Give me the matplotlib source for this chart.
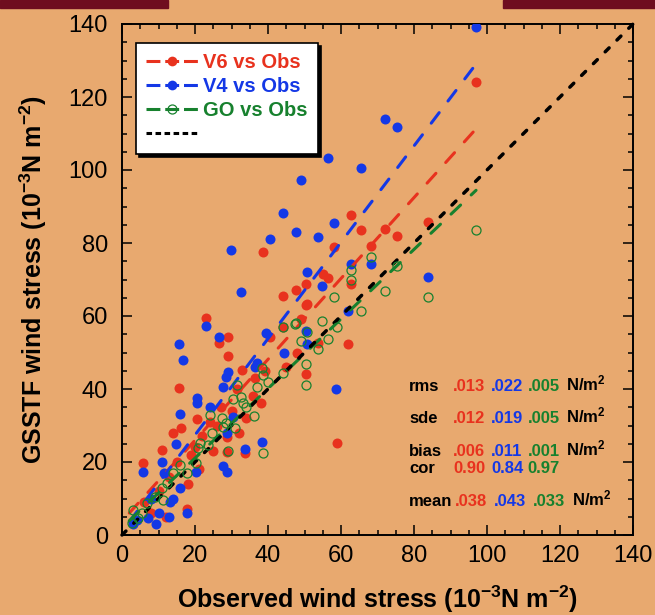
import matplotlib.pyplot as plt
from matplotlib.lines import Line2D

plt.rcParams['font.family'] = 'Liberation Sans'
plt.rcParams['mathtext.fontset'] = 'custom'
plt.rcParams['mathtext.rm'] = 'Liberation Sans:bold'
plt.rcParams['mathtext.bf'] = 'Liberation Sans:bold'
plt.rcParams['mathtext.default'] = 'bf'
plt.rcParams['lines.scale_dashes'] = False

BG = '#e8a96f'
RED = '#e8321e'
BLUE = '#1438e6'
GREEN = '#17812e'

# V6 vs observations (10^-3 N m^-2)
v6_obs = [97, 62.7, 72, 75.3, 83.8, 65.5, 58.1, 68.2, 38.6, 55, 56.4, 50.4, 47.7, 44.1,
          50.7, 62.7, 49, 40.5, 53.7, 61.9, 50.4, 50.4, 39.2, 23, 26.6, 29, 29, 32.9,
          15.6, 31.5, 20.5, 16.2, 36.4, 38.1, 33.7, 28.8, 28.8, 11, 5.8, 58.9, 44.1,
          17.8, 10, 13, 15, 18, 20, 22, 24, 26, 30, 34, 36, 8, 6, 12, 19, 25, 27, 14,
          21, 32, 45, 48]
v6_est = [124.1, 87.7, 83.8, 81.9, 85.8, 83.6, 78.9, 79.2, 77.5, 71.5, 70.4, 68.8, 67.1,
          65.5, 63.3, 68.8, 59.2, 54.2, 52.6, 52.3, 44.1, 63, 44.9, 59.5, 52.6, 54.2, 49,
          45.2, 40.3, 40, 31.8, 29.3, 43, 36.2, 22.5, 26.8, 22.7, 23.3, 19.7, 25.2, 57,
          7, 12, 16, 20, 14, 24, 27, 31, 30, 34, 32, 38, 6, 9, 5, 22, 23, 35, 28, 18,
          28, 46, 50]

# V4 vs observations
v4_obs = [97, 72, 75.3, 56.4, 65.5, 49, 44.1, 58.1, 47.7, 40.5, 53.7, 50.7, 54.8, 62.7,
          68.2, 83.8, 61.9, 39.5, 50.4, 50.7, 44.4, 37, 23, 26.6, 15.6, 16.7, 29, 28.5,
          27.7, 20.5, 20.5, 24.1, 15.9, 36.4, 38.4, 33.7, 30.4, 28.8, 27.7, 28.8, 20.3,
          14.8, 11, 5.8, 11.5, 17.8, 12.9, 13.2, 9.3, 7.1, 58.6, 29.9, 32.6, 10, 4, 3,
          8, 16, 14]
v4_est = [139.2, 114, 111.8, 103.3, 100.5, 97.3, 88.2, 85.5, 83, 81.1, 81.6, 72.1, 68.2,
          74.2, 74.2, 70.7, 61.4, 55.3, 55.9, 52.3, 49.9, 47.1, 57.3, 54.2, 52.3, 47.9,
          44.7, 43.3, 40.5, 37.5, 36.2, 35.1, 33.2, 46, 25.5, 23.6, 32.3, 27.9, 18.9,
          17.3, 17.3, 24.9, 20, 17.3, 17, 6, 4.9, 9, 3, 4.7, 40, 78, 66.6, 6, 4, 3, 10,
          13, 10]

# GO vs observations
go_obs = [97, 83.8, 72, 75.3, 68.2, 62.7, 62.7, 58.1, 65.5, 44.1, 47.7, 49, 54.8, 58.9,
          56.4, 53.7, 50.4, 44.1, 38.4, 47.4, 50.7, 50.4, 38.6, 40, 37, 31.5, 30.4, 32.6,
          33.2, 34, 36.2, 24.1, 27.4, 28.5, 27.7, 31, 24.7, 21.4, 20.8, 23.6, 29, 38.6,
          20.3, 15.9, 14, 17.8, 12.3, 11, 11.2, 9, 6.8, 5.5, 3, 2.7, 4.4]
go_est = [83.6, 65.2, 66.8, 73.7, 76.2, 72.6, 69.9, 65.2, 61.4, 57, 58.1, 53.2, 58.6, 57,
          53.7, 51, 46.8, 44.4, 45.8, 57.8, 55.6, 41.1, 43.8, 41.9, 40.5, 41.1, 37.3, 37.8,
          36.2, 35.1, 32.6, 32.9, 32, 30.7, 29.6, 29.3, 27.9, 25.2, 23.8, 24.7, 23, 22.5,
          19.7, 19.2, 17, 17, 14.2, 12.9, 9.6, 10.4, 8.8, 6, 6.8, 3.3, 4.7]

# least-squares fits (slope, intercept) and fitted range
fit_x = [2, 97]
v6_fit = (1.108, 3.8)
v4_fit = (1.32, 1.0)
go_fit = (0.953, 2.0)

stat_names = ['rms', 'sde', 'bias', 'cor', 'mean']
stat_v6 = ['.013', '.012', '.006', '0.90', '.038']
stat_v4 = ['.022', '.019', '.011', '0.84', '.043']
stat_go = ['.005', '.005', '.001', '0.97', '.033']
stat_unit = ['N/m$^2$', 'N/m$^2$', 'N/m$^2$', '', 'N/m$^2$']

fig = plt.figure(figsize=(6.55, 6.15), dpi=100, facecolor=BG)
# dark banners along the top edge
fig.patches.append(plt.Rectangle((0, 1 - 8 / 615), 168 / 655, 8 / 615,
                                 transform=fig.transFigure, color='#6f0d1f', zorder=0))
fig.patches.append(plt.Rectangle((503 / 655, 1 - 8 / 615), 152 / 655, 8 / 615,
                                 transform=fig.transFigure, color='#6f0d1f', zorder=0))

ax = fig.add_axes([122 / 655, 80 / 615, 511 / 655, 511 / 615])
ax.set_facecolor(BG)

# 1:1 line
ax.plot([0, 140], [0, 140], color='black', lw=2.5, dashes=(4, 8),
        dash_capstyle='round', clip_on=False, zorder=5)

for (m, b), c in [(v6_fit, RED), (v4_fit, BLUE), (go_fit, GREEN)]:
    ax.plot(fit_x, [m * x + b for x in fit_x], color=c, lw=2.2, dashes=(9.5, 10.5),
            dash_capstyle='round', zorder=4)

ax.plot(v6_obs, v6_est, 'o', color=RED, ms=7.2, mec='none', zorder=2)
ax.plot(v4_obs, v4_est, 'o', color=BLUE, ms=7.2, mec='none', zorder=3)
ax.plot(go_obs, go_est, 'o', mfc='none', mec=GREEN, ms=6.5, mew=0.9, zorder=6)

ax.set_xlim(0, 140)
ax.set_ylim(0, 140)
ax.set_xticks(range(0, 141, 20))
ax.set_yticks(range(0, 141, 20))
ax.set_xticks(range(0, 141, 5), minor=True)
ax.set_yticks(range(0, 141, 5), minor=True)
ax.tick_params(which='both', direction='in', top=True, right=True, width=1.1,
               labelsize=17)
ax.tick_params(which='major', length=7)
ax.tick_params(which='minor', length=3.6)
ax.tick_params(axis='x', pad=7)
ax.tick_params(axis='y', pad=10)
for s in ax.spines.values():
    s.set_linewidth(1.4)

ax.set_xlabel('Observed wind stress (10$^{-3}$N m$^{-2}$)', fontsize=18,
              fontweight='bold', labelpad=12)
ax.set_ylabel('GSSTF wind stress (10$^{-3}$N m$^{-2}$)', fontsize=18,
              fontweight='bold', labelpad=14)

handles = [
    Line2D([], [], color=RED, lw=2.2, dashes=(10, 3.5), marker='o', ms=7, mec='none'),
    Line2D([], [], color=BLUE, lw=2.2, dashes=(10, 3.5), marker='o', ms=7, mec='none'),
    Line2D([], [], color=GREEN, lw=2.2, dashes=(10, 3.5), marker='o', ms=6.5,
           mfc='none', mew=0.9),
    Line2D([], [], color='black', lw=2.2, dashes=(4, 2.5)),
]
leg = ax.legend(handles, ['V6 vs Obs', 'V4 vs Obs', 'GO vs Obs', ''],
                loc='upper left', bbox_to_anchor=(0.027, 0.963), borderaxespad=0,
                prop={'weight': 'bold', 'size': 14.5}, labelcolor='linecolor',
                handlelength=2.6, handletextpad=0.25, labelspacing=0.25,
                borderpad=0.5, fancybox=False, edgecolor='black', framealpha=1,
                shadow={'color': 'black', 'alpha': 1})
leg.get_frame().set_linewidth(1.2)
leg.set_zorder(10)

# summary statistics
rows_y = [0.2824, 0.2198, 0.1552, 0.1207, 0.0573]
col_x = [0.5616, 0.648, 0.722, 0.794, 0.869]
for i, y in enumerate(rows_y):
    xs = list(col_x)
    if stat_names[i] == 'mean':
        xs = [0.5616, 0.652, 0.728, 0.804, 0.880]
    pieces = [(stat_names[i], 'black'), (stat_v6[i], RED), (stat_v4[i], BLUE),
              (stat_go[i], GREEN), (stat_unit[i], 'black')]
    for xp, (txt, c) in zip(xs, pieces):
        ax.text(xp, y, txt, transform=ax.transAxes, color=c, fontsize=12,
                fontweight='bold', va='baseline', ha='left')

fig.savefig('out.png', dpi=100, facecolor=BG)
